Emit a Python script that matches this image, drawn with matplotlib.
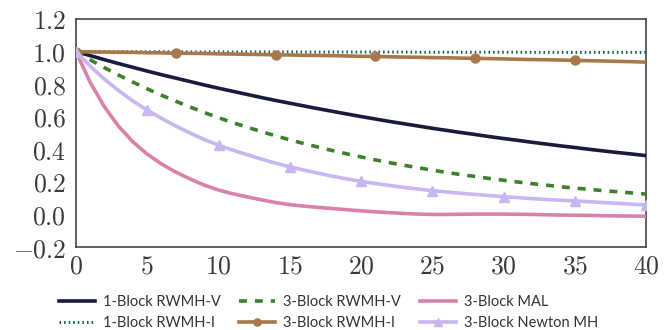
import matplotlib
matplotlib.use("Agg")
import matplotlib.pyplot as plt
import numpy as np
from matplotlib.ticker import FuncFormatter

lags = list(range(0, 41))

rwmh_v_1 = [1.000, 0.975, 0.950, 0.926, 0.903, 0.880, 0.858, 0.837, 0.816, 0.795, 0.775,
            0.756, 0.737, 0.718, 0.700, 0.683, 0.666, 0.649, 0.633, 0.617, 0.601,
            0.586, 0.571, 0.557, 0.543, 0.529, 0.516, 0.503, 0.491, 0.478, 0.466,
            0.455, 0.443, 0.432, 0.421, 0.411, 0.400, 0.390, 0.380, 0.371, 0.361]
rwmh_i_1 = [1.000, 0.999, 0.999, 0.999, 0.999, 0.999, 0.999, 0.999, 0.998, 0.998, 0.998,
            0.998, 0.998, 0.998, 0.998, 0.998, 0.997, 0.997, 0.997, 0.997, 0.997,
            0.997, 0.997, 0.997, 0.996, 0.996, 0.996, 0.996, 0.996, 0.996, 0.996,
            0.996, 0.995, 0.995, 0.995, 0.995, 0.995, 0.995, 0.995, 0.995, 0.995]
rwmh_v_3 = [1.000, 0.949, 0.901, 0.855, 0.812, 0.771, 0.732, 0.695, 0.660, 0.626, 0.594,
            0.564, 0.536, 0.509, 0.483, 0.458, 0.435, 0.413, 0.392, 0.372, 0.353,
            0.335, 0.318, 0.302, 0.287, 0.272, 0.258, 0.245, 0.233, 0.221, 0.210,
            0.199, 0.189, 0.180, 0.170, 0.162, 0.154, 0.146, 0.139, 0.132, 0.125]
rwmh_i_3 = [1.000, 0.998, 0.997, 0.996, 0.995, 0.993, 0.992, 0.990, 0.989, 0.988, 0.986,
            0.985, 0.983, 0.982, 0.980, 0.979, 0.977, 0.976, 0.975, 0.973, 0.971,
            0.970, 0.968, 0.966, 0.965, 0.963, 0.962, 0.960, 0.958, 0.957, 0.955,
            0.953, 0.951, 0.950, 0.948, 0.946, 0.944, 0.942, 0.940, 0.938, 0.935]
mal_3 = [1.000, 0.810, 0.660, 0.540, 0.445, 0.370, 0.310, 0.260, 0.218, 0.180, 0.150,
         0.127, 0.108, 0.090, 0.073, 0.060, 0.051, 0.043, 0.036, 0.029, 0.022,
         0.016, 0.011, 0.006, 0.002, 0.000, 0.000, 0.001, 0.002, 0.002, 0.002,
         0.001, 0.000, -0.002, -0.004, -0.005, -0.006, -0.008, -0.009, -0.010, -0.011]
newton_3 = [1.000, 0.910, 0.830, 0.760, 0.696, 0.640, 0.590, 0.543, 0.500, 0.460, 0.425,
            0.395, 0.367, 0.340, 0.315, 0.292, 0.272, 0.253, 0.235, 0.218, 0.203,
            0.190, 0.178, 0.166, 0.156, 0.146, 0.138, 0.130, 0.123, 0.116, 0.109,
            0.103, 0.097, 0.092, 0.087, 0.083, 0.078, 0.073, 0.068, 0.063, 0.058]

xticks = [0, 5, 10, 15, 20, 25, 30, 35, 40]
yticks = [-0.2, 0.0, 0.2, 0.4, 0.6, 0.8, 1.0, 1.2]

plt.rcParams['mathtext.fontset'] = 'cm'

fig = plt.figure(figsize=(6.64, 3.30), dpi=100)
ax = fig.add_axes([76 / 664, 1 - 247 / 330, 570 / 664, 228 / 330])

lw = 2.6
ax.plot(lags, rwmh_v_1, color='#1a1a3d', lw=lw, label='1-Block RWMH-V', zorder=3)
ax.plot(lags, rwmh_i_1, color='#0f6656', lw=2.2, ls=(0, (0.5, 1.0)), label='1-Block RWMH-I', zorder=3)
ax.plot(lags, rwmh_v_3, color='#3d7f2e', lw=lw, ls=(0, (2.2, 2.2)), label='3-Block RWMH-V', zorder=3)
ax.plot(lags, rwmh_i_3, color='#a8784a', lw=lw, marker='o', markersize=6.5, markevery=7,
        label='3-Block RWMH-I', zorder=3)
ax.plot(lags, mal_3, color='#d882aa', lw=lw, label='3-Block MAL', zorder=3)
ax.plot(lags, newton_3, color='#c7b6f0', lw=lw, marker='^', markersize=6.5, markevery=5,
        label='3-Block Newton MH', zorder=3)

ax.set_xlim(0, 40)
ax.set_ylim(-0.2, 1.2)
ax.set_xticks(xticks)
ax.set_yticks(yticks)
ax.xaxis.set_major_formatter(FuncFormatter(lambda v, p: r'$%d$' % v))
ax.yaxis.set_major_formatter(FuncFormatter(lambda v, p: r'$%.1f$' % v if abs(v) > 1e-9 else r'$0.0$'))
ax.tick_params(axis='both', length=0, labelsize=18.5, colors='#3a3a3a')
ax.tick_params(axis='x', pad=5)
ax.tick_params(axis='y', pad=7)
for s in ax.spines.values():
    s.set_color('#444444')
    s.set_linewidth(1.2)

leg = fig.legend(loc='center', bbox_to_anchor=(328.5 / 664, 1 - 312.5 / 330), ncol=3, frameon=False,
                 prop={'family': 'Lato', 'size': 10.5}, handlelength=2.45, columnspacing=1.3,
                 handletextpad=0.55, labelspacing=0.45, markerscale=0.8)
for t in leg.get_texts():
    t.set_color('#333333')

fig.savefig('out.png', dpi=100)
